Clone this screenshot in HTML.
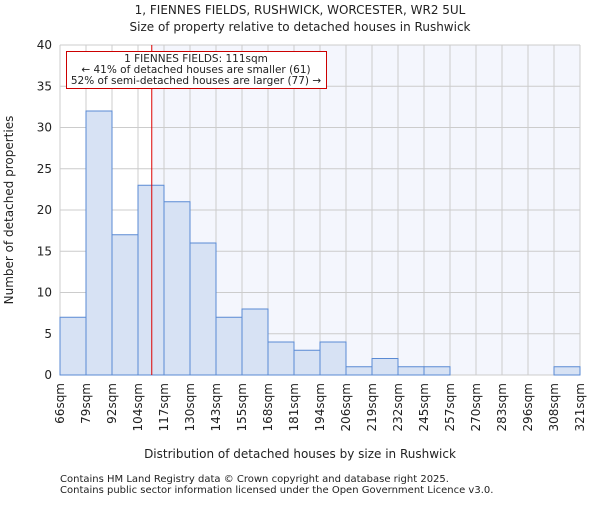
<!DOCTYPE html>
<html><head><meta charset="utf-8"><style>
body{margin:0;background:#fff}
svg text{font-family:"DejaVu Sans","Liberation Sans",sans-serif;fill:#222}
</style></head><body>
<svg id="c" width="600" height="500" xmlns="http://www.w3.org/2000/svg">
<text x="300" y="14" font-size="12" text-anchor="middle">1, FIENNES FIELDS, RUSHWICK, WORCESTER, WR2 5UL</text>
<text x="300" y="31" font-size="12" text-anchor="middle">Size of property relative to detached houses in Rushwick</text>
<g id="plot"></g>
<text x="300" y="458" font-size="12" text-anchor="middle">Distribution of detached houses by size in Rushwick</text>
<text x="13" y="210" font-size="12" text-anchor="middle" transform="rotate(-90 13 210)">Number of detached properties</text>
<text x="60" y="482" font-size="10">Contains HM Land Registry data © Crown copyright and database right 2025.</text>
<text x="60" y="493" font-size="10">Contains public sector information licensed under the Open Government Licence v3.0.</text>
</svg>
<script>
const categories=["66sqm","79sqm","92sqm","104sqm","117sqm","130sqm","143sqm","155sqm","168sqm","181sqm","194sqm","206sqm","219sqm","232sqm","245sqm","257sqm","270sqm","283sqm","296sqm","308sqm","321sqm"];
const counts=[7,32,17,23,21,16,7,8,4,3,4,1,2,1,1,0,0,0,0,1];
const yTicks=[0,5,10,15,20,25,30,35,40];
const propertySize=111;
const binStart=66, binWidthSqm=12.75;
const L=60,R=580,T=45,B=375,yMax=40;
const NS="http://www.w3.org/2000/svg";
const g=document.getElementById('plot');
const bw=(R-L)/counts.length;
const x=i=>L+i*bw;
const y=v=>B-(v/yMax)*(B-T);
const sx=s=>L+(s-binStart)/binWidthSqm*bw;
function mk(t,a){const e=document.createElementNS(NS,t);for(const k in a)e.setAttribute(k,a[k]);g.appendChild(e);return e;}
const px=sx(propertySize);
let e=mk('rect',{x:px,y:T,width:R-px,height:B-T,fill:'#f4f6fd'});


yTicks.forEach(t=>{
 let l=mk('line',{x1:L,x2:R,y1:y(t),y2:y(t),stroke:'#ccc','stroke-width':1});
 
 
 let tx=mk('text',{x:L-8,y:y(t)+4,'font-size':12,'text-anchor':'end'});tx.textContent=t;
 
 
});
categories.forEach((c,i)=>{
 let l=mk('line',{x1:x(i),x2:x(i),y1:T,y2:B,stroke:'#ccc','stroke-width':1});
 
 
 let tx=mk('text',{x:0,y:0,'font-size':12,'text-anchor':'end',transform:`translate(${x(i)+4},${B+8}) rotate(-90)`});tx.textContent=c;
 
 
});
counts.forEach((v,i)=>{
 let r=mk('rect',{x:x(i),y:y(v),width:bw,height:B-y(v),fill:'#d7e2f4',stroke:'#5a8ad3','stroke-width':1});
 
 
});
let rl=mk('line',{x1:px,x2:px,y1:T,y2:B,stroke:'#dd0000','stroke-width':1});


let bx=mk('rect',{x:66.5,y:51.5,width:260,height:37,fill:'#fff',stroke:'#cc0000','stroke-width':1});


["1 FIENNES FIELDS: 111sqm","← 41% of detached houses are smaller (61)","52% of semi-detached houses are larger (77) →"].forEach((s,i)=>{
 let t=mk('text',{x:196,y:62+i*11,'font-size':10.5,'text-anchor':'middle'});t.textContent=s;
 
 
});
</script>
</body></html>
